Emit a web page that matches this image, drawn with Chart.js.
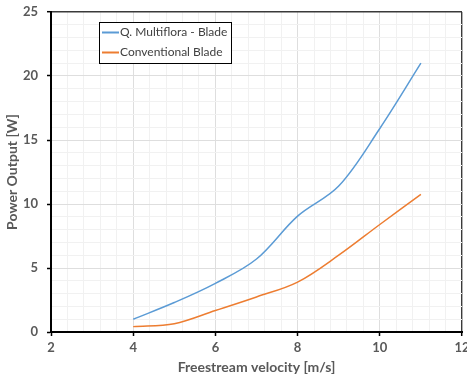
<!DOCTYPE html>
<html>
<head>
<meta charset="utf-8">
<script src="https://cdn.jsdelivr.net/npm/chart.js@4.4.1/dist/chart.umd.min.js"></script>
<style>
  html, body { margin: 0; padding: 0; background: #fff; }
  #wrap { width: 467px; height: 378px; position: relative; }
</style>
</head>
<body>
<div id="wrap"><canvas id="c" width="467" height="378"></canvas></div>
<script>
// ---- data ----
const velocities = [4, 5, 6, 7, 8, 9, 10, 11];
const multifloraPower = [1.0, 2.3, 3.8, 5.7, 9.05, 11.4, 15.9, 21.0];
const conventionalPower = [0.42, 0.65, 1.68, 2.74, 3.9, 6.0, 8.4, 10.75];
const seriesLabels = ['Q. Multiflora - Blade', 'Conventional Blade'];
const xMajorTicks = [2, 4, 6, 8, 10, 12];
const yMajorTicks = [0, 5, 10, 15, 20, 25];
const xMinorStep = 0.4;
const yMinorStep = 1;
const xTitle = 'Freestream velocity [m/s]';
const yTitle = 'Power Output [W]';

const FONT = 'Lato, "Open Sans", sans-serif';
const BLUE = '#5B9BD5';
const ORANGE = '#ED7D31';

function buildTicks(majors, step) {
  const lo = majors[0], hi = majors[majors.length - 1];
  const out = [];
  const n = Math.round((hi - lo) / step);
  for (let i = 0; i <= n; i++) out.push(Math.round((lo + i * step) * 1000) / 1000);
  return out;
}
function isMajor(v, majors) { return majors.some(m => Math.abs(m - v) < 1e-6); }

const xAll = buildTicks(xMajorTicks, xMinorStep);
const yAll = buildTicks(yMajorTicks, yMinorStep);

function gridColor(v, majors) {
  const last = majors[majors.length - 1];
  if (Math.abs(v - last) < 1e-6) return '#3a3a3a';
  return isMajor(v, majors) ? '#dedede' : '#f1f1f1';
}
function gridWidth(v, majors) {
  const last = majors[majors.length - 1];
  return Math.abs(v - last) < 1e-6 ? 1.4 : 1;
}

const legendPlugin = {
  id: 'insideLegend',
  afterDatasetsDraw(chart) {
    const ctx = chart.ctx;
    const x0 = 99, y0 = 22, w = 132, h = 41;
    ctx.save();
    ctx.fillStyle = '#fff';
    ctx.fillRect(x0, y0, w, h);
    ctx.strokeStyle = '#000';
    ctx.lineWidth = 1;
    ctx.strokeRect(x0 + 0.5, y0 + 0.5, w, h);
    ctx.font = '12px ' + FONT;
    ctx.textBaseline = 'middle';
    chart.data.datasets.forEach((ds, i) => {
      const yy = y0 + 10.5 + i * 20;
      ctx.strokeStyle = ds.borderColor;
      ctx.lineWidth = 2;
      ctx.beginPath();
      ctx.moveTo(x0 + 3, yy);
      ctx.lineTo(x0 + 20, yy);
      ctx.stroke();
      ctx.fillStyle = '#404040';
      ctx.fillText(ds.label, x0 + 21, yy);
    });
    ctx.restore();
  }
};

new Chart(document.getElementById('c'), {
  type: 'line',
  data: {
    datasets: [
      {
        label: seriesLabels[0],
        data: velocities.map((v, i) => ({ x: v, y: multifloraPower[i] })),
        borderColor: BLUE,
        backgroundColor: BLUE,
        borderWidth: 1.5,
        pointRadius: 0,
        tension: 0.35,
        fill: false
      },
      {
        label: seriesLabels[1],
        data: velocities.map((v, i) => ({ x: v, y: conventionalPower[i] })),
        borderColor: ORANGE,
        backgroundColor: ORANGE,
        borderWidth: 1.5,
        pointRadius: 0,
        tension: 0.35,
        fill: false
      }
    ]
  },
  options: {
    responsive: false,
    animation: false,
    devicePixelRatio: 1,
    layout: { padding: { top: 12, right: 5, left: 0, bottom: 0 } },
    plugins: {
      legend: { display: false },
      tooltip: { enabled: false }
    },
    scales: {
      x: {
        type: 'linear',
        min: xMajorTicks[0],
        max: xMajorTicks[xMajorTicks.length - 1],
        afterBuildTicks: (s) => { s.ticks = xAll.map(v => ({ value: v })); },
        afterFit: (s) => { s.height = 46; s.paddingLeft = 0; s.paddingRight = 0; },
        ticks: {
          autoSkip: false,
          maxRotation: 0,
          padding: 4,
          color: '#595959',
          font: { family: FONT, size: 13, weight: 'bold' },
          callback: (v) => isMajor(v, xMajorTicks) ? String(Math.round(v)) : ''
        },
        grid: {
          color: (c) => gridColor(c.tick.value, xMajorTicks),
          lineWidth: (c) => gridWidth(c.tick.value, xMajorTicks),
          tickColor: (c) => isMajor(c.tick.value, xMajorTicks) ? '#000' : 'rgba(0,0,0,0)',
          tickLength: 4,
          tickWidth: 1.5
        },
        border: { display: true, color: '#000', width: 2 },
        title: {
          display: true,
          text: xTitle,
          color: '#595959',
          font: { family: FONT, size: 14, weight: 'bold' },
          padding: { top: 0, bottom: 2 }
        }
      },
      y: {
        type: 'linear',
        min: yMajorTicks[0],
        max: yMajorTicks[yMajorTicks.length - 1],
        afterBuildTicks: (s) => { s.ticks = yAll.map(v => ({ value: v })); },
        afterFit: (s) => { s.width = 51; s.paddingTop = 0; s.paddingBottom = 0; },
        ticks: {
          autoSkip: false,
          padding: 9,
          color: '#595959',
          font: { family: FONT, size: 13, weight: 'bold' },
          callback: (v) => isMajor(v, yMajorTicks) ? String(Math.round(v)) : ''
        },
        grid: {
          color: (c) => gridColor(c.tick.value, yMajorTicks),
          lineWidth: (c) => gridWidth(c.tick.value, yMajorTicks),
          tickColor: (c) => isMajor(c.tick.value, yMajorTicks) ? '#000' : 'rgba(0,0,0,0)',
          tickLength: 4,
          tickWidth: 1.5
        },
        border: { display: true, color: '#000', width: 2 },
        title: {
          display: true,
          text: yTitle,
          color: '#595959',
          font: { family: FONT, size: 14, weight: 'bold' },
          padding: { top: 4, bottom: 0 }
        }
      }
    }
  },
  plugins: [legendPlugin]
});
</script>
</body>
</html>
